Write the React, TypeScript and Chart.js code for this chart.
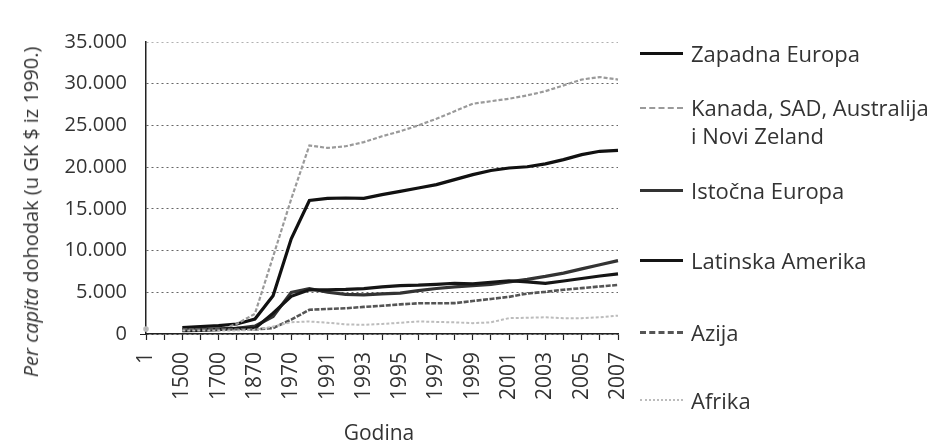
import React, { useEffect, useRef } from 'react';
import { Chart, registerables } from 'chart.js';
Chart.register(...registerables);

const FONT = "'Open Sans', 'Noto Sans', sans-serif";

const categories = ['1', '1000', '1500', '1600', '1700', '1820', '1870', '1950', '1970', '1990',
  '1991', '1992', '1993', '1994', '1995', '1996', '1997', '1998', '1999', '2000',
  '2001', '2002', '2003', '2004', '2005', '2006', '2007'];
const shownTickLabels = ['1', '1500', '1700', '1870', '1970', '1991', '1993', '1995', '1997', '1999', '2001', '2003', '2005', '2007'];

const zapadnaEuropa = [null, null, 771, 889, 997, 1202, 1800, 4578, 11417, 16000, 16250, 16300, 16250, 16700, 17100, 17500, 17900, 18500, 19100, 19600, 19900, 20050, 20400, 20900, 21500, 21900, 22000];
const kanadaSad = [null, null, 400, 400, 476, 1202, 2419, 9268, 16179, 22600, 22300, 22500, 23000, 23700, 24300, 25000, 25800, 26700, 27600, 27900, 28200, 28600, 29100, 29800, 30500, 30800, 30500];
const istocnaEuropa = [null, null, 496, 548, 606, 683, 937, 2111, 4988, 5450, 5000, 4750, 4700, 4800, 4900, 5200, 5450, 5650, 5800, 5950, 6250, 6550, 6900, 7300, 7800, 8300, 8790];
const latinskaAmerika = [null, null, 416, 438, 527, 691, 676, 2503, 4513, 5300, 5300, 5350, 5450, 5650, 5800, 5850, 5950, 6080, 6000, 6200, 6380, 6250, 6080, 6350, 6650, 6950, 7200];
const azija = [null, null, 568, 574, 572, 577, 550, 712, 1718, 2900, 3000, 3080, 3250, 3380, 3550, 3680, 3680, 3700, 3950, 4200, 4450, 4850, 5050, 5300, 5500, 5700, 5880];
const afrika = [600, null, 414, 422, 421, 420, 500, 890, 1410, 1500, 1350, 1150, 1100, 1200, 1350, 1500, 1450, 1400, 1300, 1400, 1900, 1950, 2000, 1900, 1900, 2000, 2200];

const seriesNames = ['Zapadna Europa', 'Kanada, SAD, Australija i Novi Zeland', 'Istočna Europa', 'Latinska Amerika', 'Azija', 'Afrika'];

const fmt = (v: number) => (v === 0 ? '0' : String(v).replace(/\B(?=(\d{3})+(?!\d))/g, '.'));

export default function App() {
  const ref = useRef<HTMLCanvasElement | null>(null);
  useEffect(() => {
    if (!ref.current) return;
    const chart = new Chart(ref.current, {
      type: 'line',
      data: {
        labels: categories,
        datasets: [
          { label: seriesNames[5], data: afrika, borderColor: '#bcbcbc', backgroundColor: '#aaa', borderWidth: 2, borderDash: [3, 2],
            pointRadius: (c: any) => (c.dataIndex === 0 ? 1.8 : 0) },
          { label: seriesNames[4], data: azija, borderColor: '#555', borderWidth: 2.6, borderDash: [5, 1.5], pointRadius: 0 },
          { label: seriesNames[3], data: latinskaAmerika, borderColor: '#151515', borderWidth: 3.2, pointRadius: 0 },
          { label: seriesNames[2], data: istocnaEuropa, borderColor: '#333', borderWidth: 3.2, pointRadius: 0 },
          { label: seriesNames[1], data: kanadaSad, borderColor: '#9a9a9a', borderWidth: 2.2, borderDash: [4, 2], pointRadius: 0 },
          { label: seriesNames[0], data: zapadnaEuropa, borderColor: '#111', borderWidth: 3.2, pointRadius: 0 },
        ],
      },
      options: {
        animation: false,
        responsive: false,
        events: [],
        layout: { padding: { left: 0, right: 312, top: 42, bottom: 0 } },
        plugins: { legend: { display: false }, tooltip: { enabled: false }, title: { display: false } },
        scales: {
          x: {
            type: 'category',
            offset: false,
            afterFit: (s: any) => { s.height = 111; },
            border: { display: true, color: '#222', width: 1.5 },
            grid: { display: true, drawOnChartArea: false, drawTicks: true, tickLength: 6, tickColor: '#222', tickWidth: 1.2 },
            ticks: {
              autoSkip: false, maxRotation: 90, minRotation: 90, padding: 12, color: '#333',
              font: { family: FONT, size: 21 },
              callback: (_v: any, i: number) => (shownTickLabels.includes(categories[i]) ? categories[i] : ''),
            },
          },
          y: {
            min: 0, max: 35000,
            afterFit: (s: any) => { s.width = 146; },
            border: { display: true, color: '#222', width: 1.5, dash: [2, 3] },
            grid: {
              color: (c: any) => (c.tick && c.tick.value === 35000 ? '#b0b0b0' : '#666'),
              lineWidth: 1,
              drawTicks: true, tickLength: 6,
              tickColor: (c: any) => (c.tick && c.tick.value === 0 ? '#222' : 'rgba(0,0,0,0)'),
            },
            ticks: { stepSize: 5000, padding: 13, color: '#333', font: { family: FONT, size: 20 }, callback: (v: any) => fmt(Number(v)) },
          },
        },
      } as any,
    });
    return () => chart.destroy();
  }, []);

  const legendItems = [
    { text: ['Zapadna Europa'], y: 53, line: '3px solid #111' },
    { text: ['Kanada, SAD, Australija', 'i Novi Zeland'], y: 121, lineY: 108, line: '2px dashed #9a9a9a' },
    { text: ['Istočna Europa'], y: 190, line: '3px solid #333' },
    { text: ['Latinska Amerika'], y: 260, line: '3px solid #151515' },
    { text: ['Azija'], y: 332, line: '3px dashed #555' },
    { text: ['Afrika'], y: 400, line: '2px dotted #bcbcbc' },
  ];

  return (
    <div style={{ position: 'fixed', left: 0, top: 0, width: 930, height: 445, background: '#fff', overflow: 'hidden', fontFamily: FONT, color: '#333' }}>
      <canvas ref={ref} width={930} height={445} style={{ position: 'absolute', left: 0, top: 0, width: 930, height: 445 }} />
      <div style={{ position: 'absolute', left: 31, top: 212, transform: 'translate(-50%, -50%) rotate(-90deg)', whiteSpace: 'nowrap', fontSize: 20, lineHeight: '22px' }}>
        <i>Per capita</i> dohodak (u GK $ iz 1990.)
      </div>
      <div style={{ position: 'absolute', left: 379, top: 432, transform: 'translate(-50%, -50%)', whiteSpace: 'nowrap', fontSize: 21, lineHeight: '24px' }}>
        Godina
      </div>
      {legendItems.map((it, k) => (
        <React.Fragment key={k}>
          <div style={{ position: 'absolute', left: 640, width: 43, top: (it.lineY ?? it.y) - 1, borderTop: it.line }} />
          <div style={{ position: 'absolute', left: 691, top: it.y, transform: 'translateY(-50%)', fontSize: 22, lineHeight: '28px', whiteSpace: 'nowrap' }}>
            {it.text.map((t, j) => <div key={j}>{t}</div>)}
          </div>
        </React.Fragment>
      ))}
    </div>
  );
}
